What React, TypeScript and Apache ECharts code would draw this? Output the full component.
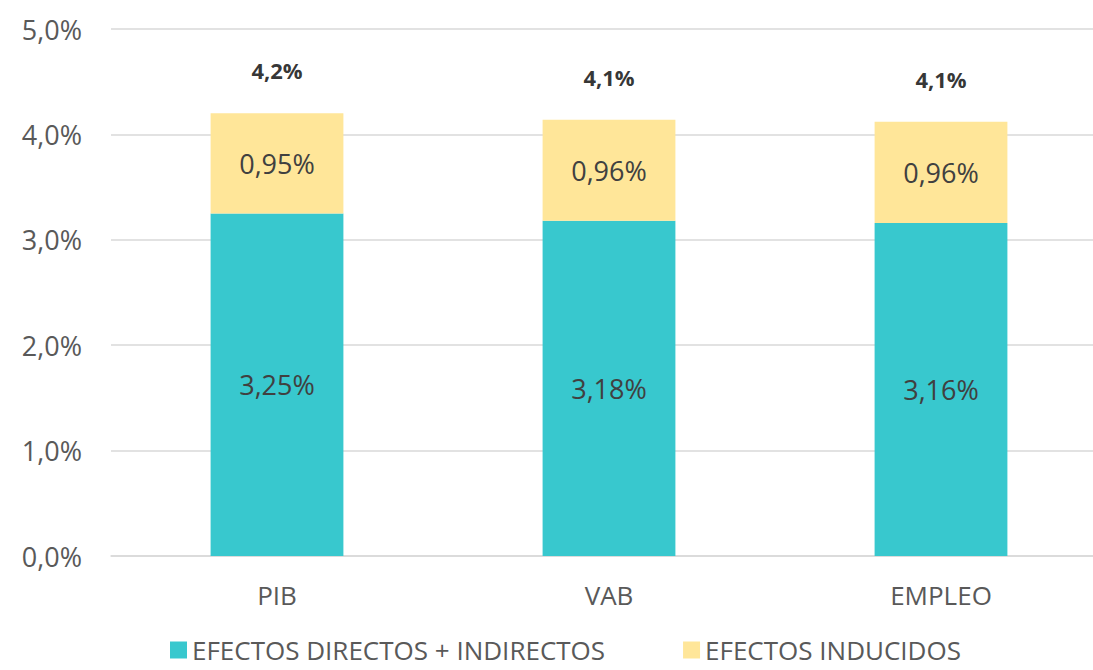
import React, { useEffect, useRef } from "react";
import * as echarts from "echarts";

const categories = ["PIB", "VAB", "EMPLEO"];
const directos = [3.25, 3.18, 3.16];
const inducidos = [0.95, 0.96, 0.96];
const totals = [4.2, 4.14, 4.12];
const yTicks = [0, 1, 2, 3, 4, 5];

const FONT = "'Open Sans', sans-serif";
const fmt = (v: number, d: number) => v.toFixed(d).replace(".", ",") + "%";

export default function App() {
  const ref = useRef<HTMLDivElement>(null);
  useEffect(() => {
    if (!ref.current) return;
    const chart = echarts.init(ref.current, undefined, { renderer: "svg" });
    chart.setOption({
      animation: false,
      textStyle: { fontFamily: FONT },
      grid: { left: 111, width: 996, top: 29, bottom: 114 },
      legend: {
        data: ["EFECTOS DIRECTOS + INDIRECTOS", "EFECTOS INDUCIDOS"],
        top: 637,
        left: 170,
        padding: 0,
        itemWidth: 17,
        itemHeight: 17,
        itemGap: 78,
        icon: "rect",
        textStyle: { fontSize: 26, lineHeight: 26, color: "#595959", fontFamily: FONT },
      },
      xAxis: {
        type: "category",
        data: categories,
        axisLine: { show: true, lineStyle: { color: "#D9D9D9", width: 1.5 } },
        axisTick: { show: false },
        axisLabel: { fontSize: 26, color: "#595959", margin: 26, fontFamily: FONT },
      },
      yAxis: {
        type: "value",
        min: yTicks[0],
        max: yTicks[yTicks.length - 1],
        interval: 1,
        axisLine: { show: false },
        axisTick: { show: false },
        splitLine: { lineStyle: { color: "#D9D9D9", width: 1.5 } },
        axisLabel: {
          fontSize: 27,
          color: "#595959",
          margin: 29,
          fontFamily: FONT,
          formatter: (v: number) => fmt(v, 1),
        },
      },
      series: [
        {
          name: "EFECTOS DIRECTOS + INDIRECTOS",
          type: "bar",
          stack: "total",
          barWidth: "40%",
          data: directos,
          itemStyle: { color: "#38C8CE" },
          label: {
            show: true,
            position: "inside",
            fontSize: 27,
            color: "#404040",
            fontFamily: FONT,
            formatter: (p: any) => fmt(p.value, 2),
          },
        },
        {
          name: "EFECTOS INDUCIDOS",
          type: "bar",
          stack: "total",
          barWidth: "40%",
          data: inducidos,
          itemStyle: { color: "#FFE699" },
          label: {
            show: true,
            position: "inside",
            fontSize: 27,
            color: "#404040",
            fontFamily: FONT,
            formatter: (p: any) => fmt(p.value, 2),
          },
        },
        {
          name: "TOTAL",
          type: "scatter",
          data: totals,
          symbolSize: 0,
          silent: true,
          label: {
            show: true,
            position: "top",
            distance: 32,
            fontSize: 22,
            fontWeight: "bold",
            color: "#000000",
            fontFamily: FONT,
            formatter: (p: any) => fmt(p.value, 1),
          },
        },
      ],
    });
    return () => chart.dispose();
  }, []);
  return (
    <div style={{ width: 1093, height: 670, position: "absolute", left: 0, top: 0, overflow: "hidden" }}>
      <div ref={ref} style={{ width: 1140, height: 670 }} />
    </div>
  );
}
